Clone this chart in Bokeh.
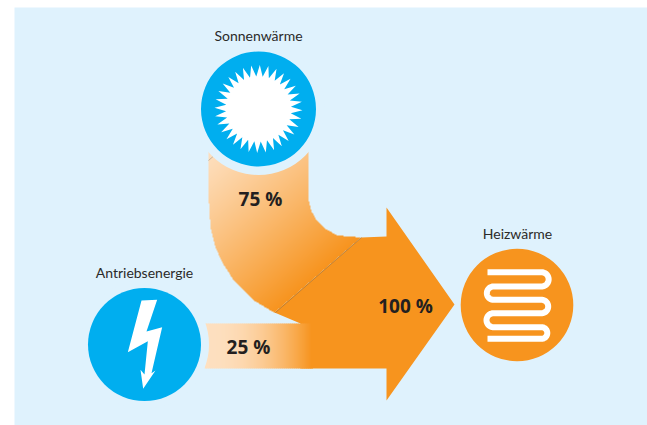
import numpy as np
from bokeh.plotting import figure
from bokeh.embed import file_html
from bokeh.resources import INLINE
from bokeh.core.properties import value

# Sankey flows
flow_labels = ["75 %", "25 %", "100 %"]
flow_label_x = [260, 248, 405]
flow_label_y = [198, 346, 305]
node_labels = ["Sonnenwärme", "Antriebsenergie", "Heizwärme"]
node_label_x = [258, 144, 517]
node_label_y = [35, 272, 233]
node_x = [258, 144, 516.5]
node_y = [108.5, 344, 304.5]
node_r = [57.5, 56.5, 56.3]

BG = "#dff2fd"
BLUE = "#00aeef"
ORANGE = "#f7941e"
LIGHT = np.array([254, 224, 192])
DEEP = np.array([247, 148, 30])

H = 425
def Y(v):
    return H - np.asarray(v, dtype=float)

p = figure(width=647, height=425, output_backend="svg", toolbar_location=None,
           x_range=(0, 647), y_range=(0, 425), min_border=0)
p.axis.visible = False
p.grid.visible = False
p.outline_line_color = None
p.background_fill_color = "white"
p.border_fill_color = "white"

# panel
p.quad(left=[14], right=[647], bottom=[0], top=[418], fill_color=BG, line_color=None)

# Solid arrow body
body_x = [361, 386, 386, 454, 386, 386, 300, 300, 274]
body_y = [237, 236, 207, 304, 400, 368, 368, 323, 312]
p.patch(body_x, Y(body_y), fill_color=ORANGE, line_color=None)

# Curved band outline
bend_x = [208, 308, 308.3, 310.7, 315, 323.3, 336.7, 361, 274, 253.3, 233.3, 221.7, 215, 210, 208.3, 208]
bend_y = [140, 140, 200, 210, 218.3, 227.3, 235, 237, 312.3, 300, 280, 261.7, 246.7, 226.7, 200, 170]

def inside(xs, ys, px, py):
    r = np.zeros(xs.shape, dtype=bool)
    n = len(px)
    for i in range(n):
        j = (i + 1) % n
        cond = (py[i] > ys) != (py[j] > ys)
        xc = (px[j] - px[i]) * (ys - py[i]) / (py[j] - py[i] + 1e-9) + px[i]
        r ^= cond & (xs < xc)
    return r

x0, x1, y0, y1 = 205, 365, 135, 316
gx, gy = np.meshgrid(np.arange(x0, x1) + .5, np.arange(y1, y0, -1) - .5)
mask = inside(gx, gy, bend_x, bend_y)
# linear gradient, perpendicular to the seam
nx, ny = 75, 86
nl = np.hypot(nx, ny)
d0 = (208 * nx + 150 * ny) / nl
d1 = (275 * nx + 312 * ny) / nl
t = np.clip(((gx * nx + gy * ny) / nl - d0) / (d1 - d0), 0, 1) ** 1.15
img = np.zeros(gx.shape + (4,), dtype=np.uint8)
for c in range(3):
    img[..., c] = (LIGHT[c] + (DEEP[c] - LIGHT[c]) * t).astype(np.uint8)
img[..., 3] = mask * 255
view = img.view(dtype=np.uint32).reshape(gx.shape)
p.image_rgba(image=[view], x=[x0], y=[float(Y(y1))], dw=[x1 - x0], dh=[y1 - y0])

# Straight band gradient
sx = np.arange(204, 312, 2.0)
st = np.clip((sx - 207) / (310 - 207), 0, 1) ** 2
scol = ["#%02x%02x%02x" % tuple((LIGHT + (DEEP - LIGHT) * k).astype(int)) for k in st]
p.quad(left=sx, right=sx + 2.5, bottom=Y([368] * len(sx)), top=Y([323] * len(sx)),
       fill_color=scol, line_color=None)

# seam
p.line([275, 361], Y([312, 237]), line_color="#a8763c", line_width=0.7)
p.line([208, 216], Y([160, 153]), line_color="#a8a08f", line_width=0.7)

# halos
p.circle(x=[258], y=Y([108.5]), radius=66, fill_color=BG, line_color=None)
p.circle(x=[144], y=Y([344]), radius=64.5, fill_color=BG, line_color=None)

# nodes
p.circle(x=node_x, y=Y(node_y), radius=node_r, fill_color=[BLUE, BLUE, ORANGE], line_color=None)

# sun
ang = np.linspace(0, 2 * np.pi, 64, endpoint=False) + 0.03
rad = np.where(np.arange(64) % 2 == 0, 44.0, 32.5)
p.patch(258 + rad * np.sin(ang), Y(108.5 - rad * np.cos(ang)), fill_color="white", line_color=None)

# lightning bolt
bolt_x = np.array([213, 260, 228, 275, 243, 255, 218, 210, 222, 232, 172]) / 3 + 70
bolt_y = np.array([150, 148, 243, 230, 368, 360, 415, 358, 372, 272, 305]) / 3 + 250
p.patch(bolt_x, Y(bolt_y), fill_color="white", line_color=None)

# heating coil
rows = [271.7, 286, 299.3, 312.7, 326.7, 338.3]
cx_l, cx_r = 493, 541
xs, ys = [487.0], [rows[0]]
for i in range(len(rows) - 1):
    r = (rows[i + 1] - rows[i]) / 2
    cy = (rows[i + 1] + rows[i]) / 2
    th = np.linspace(-np.pi / 2, np.pi / 2, 24)
    if i % 2 == 0:
        xs += list(cx_r + r * np.cos(th)); ys += list(cy + r * np.sin(th))
    else:
        xs += list(cx_l - r * np.cos(th)); ys += list(cy + r * np.sin(th))
xs.append(487.0); ys.append(rows[-1])
p.line(xs, Y(ys), line_color="white", line_width=6, line_cap="butt", line_join="round")

# labels
p.text(x=node_label_x, y=Y(node_label_y), text=node_labels, text_align="center", text_baseline="middle",
       text_font=value("Lato"), text_font_size="14px", text_color="#2b2a29")
p.text(x=flow_label_x, y=Y(flow_label_y), text=flow_labels, text_align="center", text_baseline="middle",
       text_font=value("Open Sans"), text_font_style="bold", text_font_size="19px", text_color="#231f20")

open("out.html", "w").write(file_html(p, INLINE))
